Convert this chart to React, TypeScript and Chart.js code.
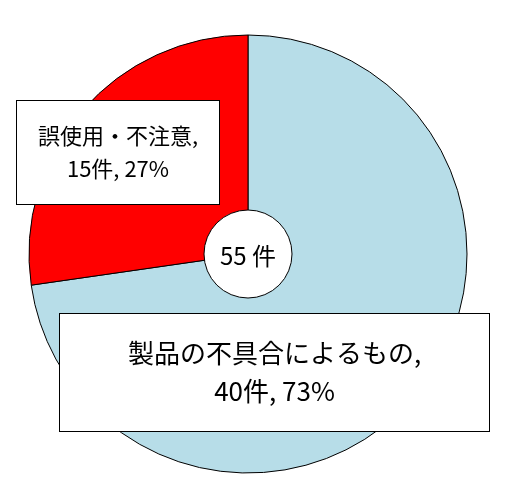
import React, { useEffect, useRef } from "react";
import { Chart, registerables } from "chart.js";

Chart.register(...registerables);

const categories = ["製品の不具合によるもの", "誤使用・不注意"];
const counts = [40, 15];
const percents = ["73%", "27%"];
const sliceColors = ["#B7DDE8", "#FF0000"];
const totalLabel = "55 件";

const FONT = '"Noto Sans CJK JP", "Noto Sans", sans-serif';

// label boxes, placed relative to pie centre / radius
const boxLayout = [
    { left: -189, right: 241, top: 59, bottom: 177, size: 26, gap: 19 },
    { left: -232, right: -29, top: -154, bottom: -50, size: 22, gap: 16.5 },
];

const labelPlugin = {
    id: "pieLabels",
    afterDraw(chart: any) {
        const ctx = chart.ctx;
        const arc = chart.getDatasetMeta(0).data[0];
        if (!arc) return;
        const cx = arc.x;
        const cy = arc.y;
        ctx.save();

        // centre circle with total
        ctx.beginPath();
        ctx.arc(cx, cy, 44, 0, Math.PI * 2);
        ctx.fillStyle = "#fff";
        ctx.fill();
        ctx.lineWidth = 1;
        ctx.strokeStyle = "#000";
        ctx.stroke();
        ctx.fillStyle = "#000";
        ctx.textAlign = "center";
        ctx.textBaseline = "middle";
        ctx.font = `24px ${FONT}`;
        ctx.fillText(totalLabel, cx, cy + 2);

        categories.forEach((cat, i) => {
            const b = boxLayout[i];
            const x0 = Math.round(cx + b.left) + 0.5;
            const y0 = Math.round(cy + b.top) + 0.5;
            const w = b.right - b.left;
            const h = b.bottom - b.top;
            ctx.fillStyle = "#fff";
            ctx.fillRect(x0, y0, w, h);
            ctx.strokeStyle = "#000";
            ctx.lineWidth = 1;
            ctx.strokeRect(x0, y0, w, h);
            ctx.fillStyle = "#000";
            ctx.font = `${b.size}px ${FONT}`;
            const mx = x0 + w / 2;
            const my = y0 + h / 2;
            ctx.fillText(cat + ",", mx, my - b.gap);
            ctx.fillText(`${counts[i]}件, ${percents[i]}`, mx, my + b.gap);
        });
        ctx.restore();
    },
};

const App: React.FC = () => {
    const canvasRef = useRef<HTMLCanvasElement>(null);

    useEffect(() => {
        if (!canvasRef.current) return;
        const ctx = canvasRef.current.getContext("2d");
        if (!ctx) return;

        const chart = new Chart(ctx, {
            type: "pie",
            data: {
                labels: categories,
                datasets: [
                    {
                        data: counts,
                        backgroundColor: sliceColors,
                        borderColor: "#000",
                        borderWidth: 1,
                    },
                ],
            },
            options: {
                responsive: false,
                animation: false,
                radius: 219,
                layout: { padding: { left: 0, right: 12, top: 13, bottom: 0 } },
                plugins: {
                    legend: { display: false },
                    tooltip: { enabled: false },
                },
            },
            plugins: [labelPlugin],
        });

        return () => {
            chart.destroy();
        };
    }, []);

    return (
        <div style={{ position: "fixed", left: 0, top: 0, width: 508, height: 495, background: "#fff" }}>
            <canvas ref={canvasRef} width={508} height={495}></canvas>
        </div>
    );
};

export default App;
